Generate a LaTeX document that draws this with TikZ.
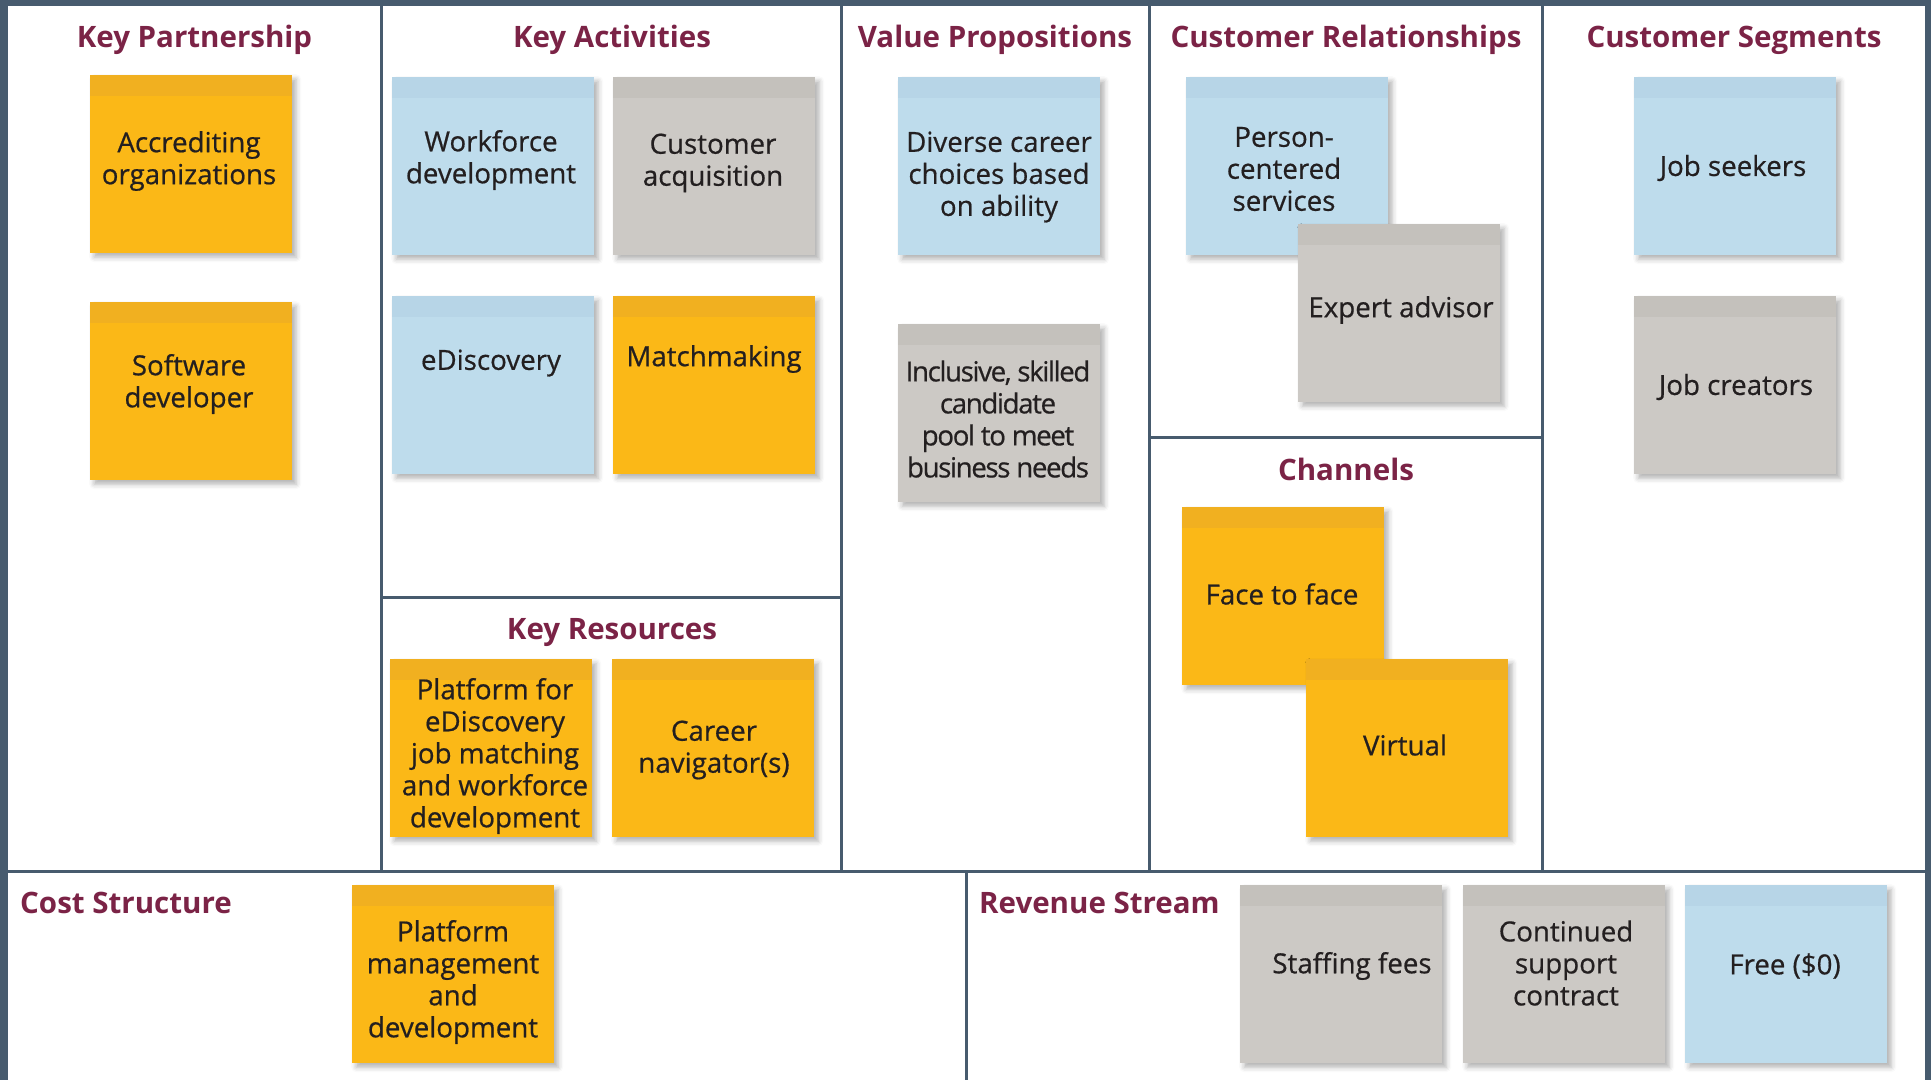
\documentclass[tikz,border=0pt]{standalone}
\usepackage{fontspec}
\setmainfont{Open Sans}
\usetikzlibrary{shadows.blur}

\definecolor{frameline}{HTML}{475B6E}
\definecolor{heading}{HTML}{7B2346}
\definecolor{inktext}{HTML}{231F20}
\definecolor{yellownote}{HTML}{FBB817}
\definecolor{yellownotetop}{HTML}{F1B020}
\definecolor{bluenote}{HTML}{BEDCEC}
\definecolor{bluenotetop}{HTML}{B7D5E7}
\definecolor{graynote}{HTML}{CCC9C5}
\definecolor{graynotetop}{HTML}{C4C1BC}

\begin{document}
\begin{tikzpicture}[x=1pt, y=-1pt,
  note/.style={fill=#1note, minimum width=202pt, minimum height=178pt, inner sep=0pt, anchor=north west,
    blur shadow={shadow xshift=4pt, shadow yshift=-4pt, shadow blur radius=5pt, shadow opacity=30},
    path picture={\fill[#1notetop] (path picture bounding box.north west) rectangle ([yshift=-21pt]path picture bounding box.north east);}},
  notetxt/.style={align=center, inner sep=0pt, text=inktext, font=\fontsize{27.7}{32}\selectfont\addfontfeature{FakeBold=0.6}},
  blocktitle/.style={anchor=base, inner sep=0pt, text=heading, font=\fontsize{29.5}{34}\selectfont\bfseries},
  canvasline/.style={draw=frameline, line width=3pt}]
\useasboundingbox (0,0) rectangle (1931,1080);
% Outer frame
\fill[frameline] (0,0) rectangle (8,1080);
\fill[frameline] (0,0) rectangle (1931,6);
\fill[frameline] (1925,0) rectangle (1931,1080);
% Block dividers
\draw[canvasline] (381,6) -- (381,871);
\draw[canvasline] (841,6) -- (841,871);
\draw[canvasline] (1149,6) -- (1149,871);
\draw[canvasline] (1542,6) -- (1542,871);
\draw[canvasline] (381,597) -- (841,597);
\draw[canvasline] (1149,437) -- (1542,437);
\draw[canvasline] (8,871) -- (1925,871);
\draw[canvasline] (966,871) -- (966,1080);
% Block titles
\node[blocktitle] (kpart) at (194.5,47) {Key Partnership};
\node[blocktitle] (kact) at (612,47) {Key Activities};
\node[blocktitle] (vprop) at (995,47) {Value Propositions};
\node[blocktitle] (crel) at (1346,47) {Customer Relationships};
\node[blocktitle] (cseg) at (1734,47) {Customer Segments};
\node[blocktitle] (chan) at (1346,480) {Channels};
\node[blocktitle] (kres) at (612,639) {Key Resources};
\node[blocktitle, anchor=base west] (cost) at (20,913) {Cost Structure};
\node[blocktitle, anchor=base west] (rev) at (979,913) {Revenue Stream};
% Key Partnership
\node[note=yellow] (accred) at (90,75) {};
\node[notetxt] (accred-t) at (189,161) {Accrediting\\organizations};
\node[note=yellow] (softdev) at (90,302) {};
\node[notetxt] (softdev-t) at (189,384) {Software\\developer};
% Key Activities
\node[note=blue] (workdev) at (392,77) {};
\node[notetxt] (workdev-t) at (491,160) {Workforce\\development};
\node[note=gray] (custacq) at (613,77) {};
\node[notetxt] (custacq-t) at (713,163) {Customer\\acquisition};
\node[note=blue] (ediscov) at (392,296) {};
\node[notetxt] (ediscov-t) at (491,363) {eDiscovery};
\node[note=yellow] (match) at (613,296) {};
\node[notetxt] (match-t) at (714,359) {Matchmaking};
% Key Resources
\node[note=yellow] (platform) at (390,659) {};
\node[notetxt] (platform-t) at (495,756) {Platform for\\eDiscovery\\job matching\\and workforce\\development};
\node[note=yellow] (navig) at (612,659) {};
\node[notetxt] (navig-t) at (714,750) {Career\\navigator(s)};
% Value Propositions
\node[note=blue] (diverse) at (898,77) {};
\node[notetxt] (diverse-t) at (999,177) {Diverse career\\choices based\\on ability};
\node[note=gray] (pool) at (898,324) {};
\node[notetxt, font=\fontsize{27.7}{32}\selectfont\addfontfeature{FakeBold=0.6,LetterSpace=-5}] (pool-t) at (998,419) {Inclusive, skilled\\candidate\\pool to meet\\business needs};
% Customer Relationships
\node[note=blue] (person) at (1186,77) {};
\node[notetxt] (person-t) at (1284,169) {Person-\\centered\\services};
\node[note=gray] (expert) at (1298,224) {};
\node[notetxt] (expert-t) at (1401,310) {Expert advisor};
% Channels
\node[note=yellow] (face) at (1182,507) {};
\node[notetxt] (face-t) at (1282,594) {Face to face};
\node[note=yellow] (virtual) at (1306,659) {};
\node[notetxt] (virtual-t) at (1405,745) {Virtual};
% Customer Segments
\node[note=blue] (seekers) at (1634,77) {};
\node[notetxt] (seekers-t) at (1733,168) {Job seekers};
\node[note=gray] (creators) at (1634,296) {};
\node[notetxt] (creators-t) at (1736,387) {Job creators};
% Cost Structure
\node[note=yellow] (mgmt) at (352,885) {};
\node[notetxt] (mgmt-t) at (453,982) {Platform\\management\\and\\development};
% Revenue Stream
\node[note=gray] (staff) at (1240,885) {};
\node[notetxt] (staff-t) at (1352,966) {Staffing fees};
\node[note=gray] (support) at (1463,885) {};
\node[notetxt] (support-t) at (1566,963) {Continued\\support\\contract};
\node[note=blue] (free) at (1685,885) {};
\node[notetxt] (free-t) at (1785,966) {Free (\$0)};
\end{tikzpicture}
\end{document}
